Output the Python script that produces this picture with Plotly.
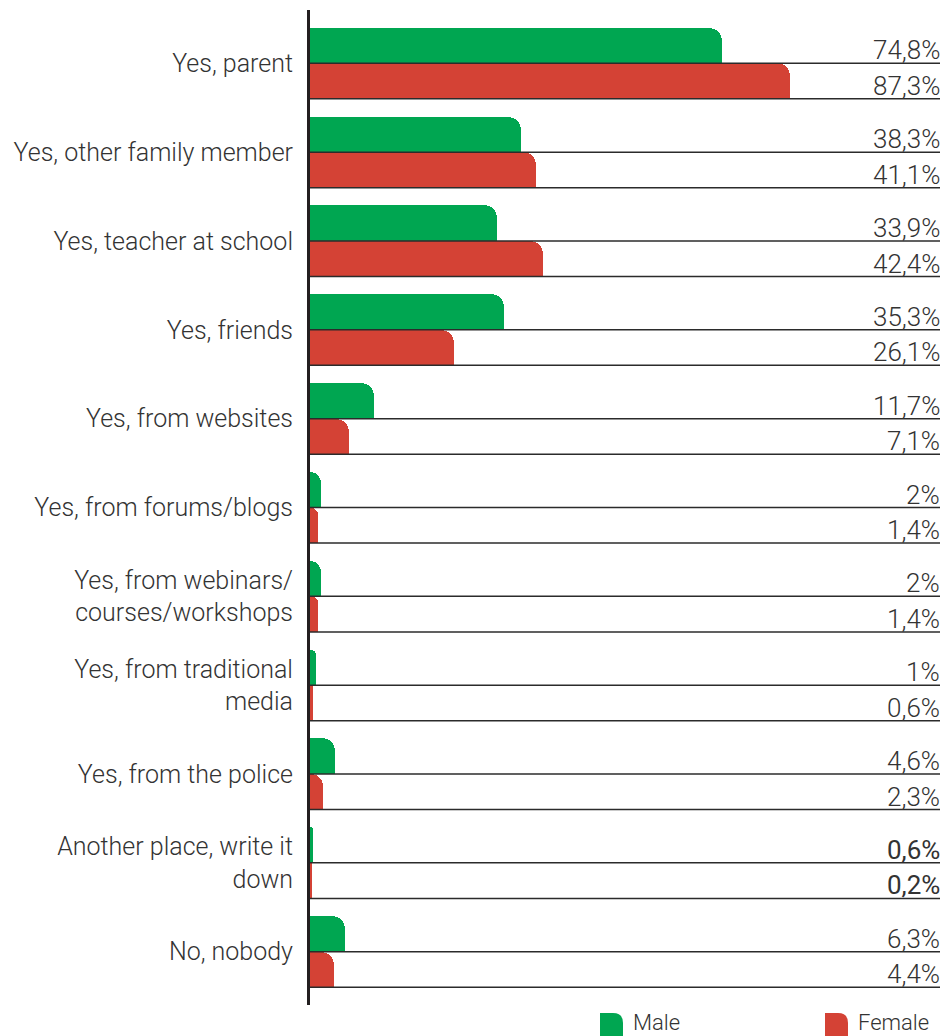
import plotly.graph_objects as go

# Sources of information, share of respondents by gender
categories = [
    "Yes, parent",
    "Yes, other family member",
    "Yes, teacher at school",
    "Yes, friends",
    "Yes, from websites",
    "Yes, from forums/blogs",
    "Yes, from webinars/<br>courses/workshops",
    "Yes, from traditional<br>media",
    "Yes, from the police",
    "Another place, write it<br>down",
    "No, nobody",
]
male = [74.8, 38.3, 33.9, 35.3, 11.7, 2, 2, 1, 4.6, 0.6, 6.3]
female = [87.3, 41.1, 42.4, 26.1, 7.1, 1.4, 1.4, 0.6, 2.3, 0.2, 4.4]
series_names = ["Male", "Female"]

GREEN = "#00a651"
RED = "#d44235"
TEXT = "#333333"
LINE = "#2b2b2b"
FONT = "Roboto"

BAR_H = 0.4       # height of one bar in row units
RADIUS = 13       # px, rounded top-right corner

rows = list(range(len(categories)))


def fmt(v):
    return f"{v:g}".replace(".", ",") + "%"


fig = go.Figure()

for vals, color, off in ((male, GREEN, -BAR_H / 2), (female, RED, BAR_H / 2)):
    # full bar with rounded end
    fig.add_trace(go.Bar(
        x=vals, y=[r + off for r in rows], orientation="h", width=BAR_H,
        marker=dict(color=color, cornerradius=RADIUS, line=dict(width=0)),
        opacity=1, hoverinfo="skip", showlegend=False,
    ))
    # square off the lower end corner
    fig.add_trace(go.Bar(
        x=vals, y=[r + off + BAR_H / 4 for r in rows], orientation="h", width=BAR_H / 2,
        marker=dict(color=color, line=dict(width=0)),
        opacity=1, hoverinfo="skip", showlegend=False,
    ))

shapes = []
annotations = []
for r, cat, m, f in zip(rows, categories, male, female):
    weight = 400 if cat.startswith("Another place") else 300
    for yline, v in ((r, m), (r + BAR_H, f)):
        shapes.append(dict(type="line", xref="paper", yref="y", x0=0, x1=1,
                           y0=yline, y1=yline, line=dict(color=LINE, width=1.5),
                           layer="above"))
        annotations.append(dict(xref="paper", yref="y", x=1, y=yline,
                                xanchor="right", yanchor="bottom", yshift=-4, xshift=2,
                                text=fmt(v), showarrow=False,
                                font=dict(family=FONT, size=26, color=TEXT, weight=weight)))

# legend swatches with a rounded top-right corner
PLOT_L, PLOT_R, PLOT_T, PLOT_B = 310, 940, 10, 1005


def px_x(p):
    return (p - PLOT_L) / (PLOT_R - PLOT_L)


def px_y(p):
    return (PLOT_B - p) / (PLOT_B - PLOT_T)


for name, color, x0 in ((series_names[0], GREEN, 600), (series_names[1], RED, 825)):
    x1 = x0 + 23
    y0, y1 = 1040, 1013
    rx = px_x(x1) - px_x(x1 - 10)
    ry = px_y(y1) - px_y(y1 + 10)
    path = (f"M {px_x(x0)},{px_y(y0)} L {px_x(x0)},{px_y(y1)} "
            f"L {px_x(x1) - rx},{px_y(y1)} Q {px_x(x1)},{px_y(y1)} {px_x(x1)},{px_y(y1) - ry} "
            f"L {px_x(x1)},{px_y(y0)} Z")
    shapes.append(dict(type="path", xref="paper", yref="paper", path=path,
                       fillcolor=color, line=dict(width=0)))
    annotations.append(dict(xref="paper", yref="paper", x=px_x(x1 + 8), y=px_y(1022),
                            xanchor="left", yanchor="middle", text=name, showarrow=False,
                            font=dict(family=FONT, size=22, color=TEXT, weight=300)))

fig.update_layout(
    width=947, height=1036,
    margin=dict(l=PLOT_L, r=947 - PLOT_R, t=PLOT_T, b=1036 - PLOT_B),
    barmode="overlay", bargap=0,
    plot_bgcolor="white", paper_bgcolor="white",
    shapes=shapes, annotations=annotations,
    showlegend=False,
    xaxis=dict(range=[0, 114.5], showgrid=False, zeroline=False,
               showticklabels=False, showline=False, fixedrange=True),
    yaxis=dict(range=[len(rows) - 0.4, -0.6], tickmode="array", tickvals=rows,
               ticktext=categories, showgrid=False, zeroline=False,
               showline=True, linecolor="#231f20", linewidth=3,
               ticks="outside", ticklen=9, tickcolor="rgba(0,0,0,0)",
               tickfont=dict(family=FONT, size=25, color=TEXT, weight=300),
               fixedrange=True),
)

fig.write_html("out.html")
